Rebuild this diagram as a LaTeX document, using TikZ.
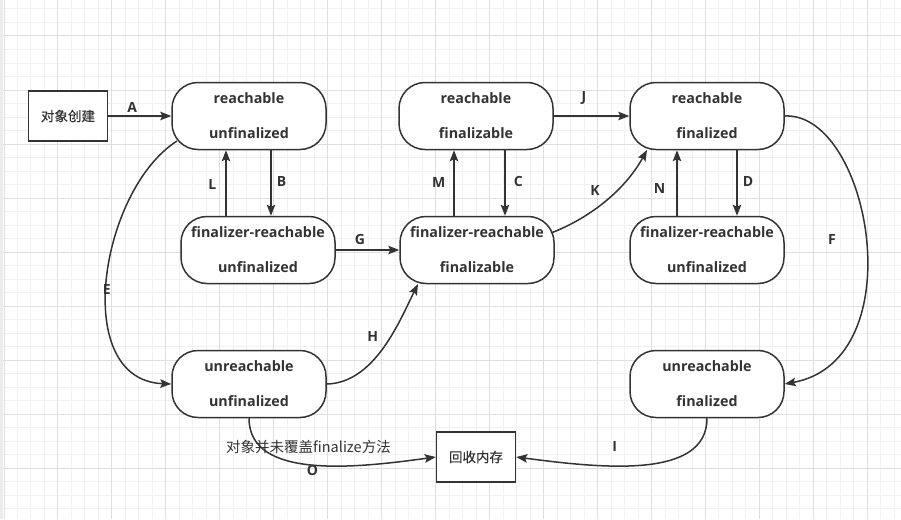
\documentclass[tikz,border=0pt]{standalone}
\usepackage{fontspec}
\setmainfont{Open Sans}
\newfontfamily\cjk{Noto Sans CJK SC}
\newfontfamily\cjkbox[FakeBold=0.5]{Noto Sans CJK SC}
\usetikzlibrary{arrows.meta}
\definecolor{ink}{HTML}{333333}
\definecolor{gridminor}{HTML}{F1F1F1}
\definecolor{gridmajor}{HTML}{DFDFDF}

\begin{document}
\begin{tikzpicture}[x=1pt,y=-1pt,
        state/.style={draw=ink,fill=white,line width=1.5pt,rounded corners=26pt,
            minimum width=154pt,minimum height=67pt,align=center,text=ink,
            font=\fontsize{14.3}{35}\selectfont\bfseries},
        box/.style={draw=ink,fill=white,line width=1.5pt,minimum width=79pt,
            minimum height=50pt,text=ink,font=\cjkbox\fontsize{13.5}{17}\selectfont},
        arr/.style={draw=ink,line width=1.5pt,-{Stealth[length=11pt,width=8.5pt,inset=2pt]}},
        lbl/.style={text=ink,inner sep=1pt,font=\fontsize{14}{17}\selectfont\bfseries},
        note/.style={text=ink,inner sep=1pt,font=\cjk\fontsize{14.5}{17}\selectfont}]
            \useasboundingbox (0,0) rectangle (901,519);

            % grid
            \fill [gray!15] (0,0) rectangle (3,519);
            \foreach \i in {0,...,66}
                {\draw [gridminor,line width=1pt] ({4+13.49*\i},0) -- ({4+13.49*\i},519);}
            \foreach \j in {0,...,38}
                {\draw [gridminor,line width=1pt] (3,{9+13.5*\j}) -- (901,{9+13.5*\j});}
            \foreach \i in {0,...,16}
                {\draw [gridmajor,line width=1pt] ({4+53.95*\i},0) -- ({4+53.95*\i},519);}
            \foreach \j in {0,...,8}
                {\draw [gridmajor,line width=1pt] (3,{36+54*\j}) -- (901,{36+54*\j});}

            % states
            \node [box]   (create) at (68,116)  {对象创建};
            \node [state] (ru)     at (249,116) {reachable\\unfinalized};
            \node [state] (fru)    at (258,250) {finalizer-reachable\\unfinalized};
            \node [state] (rfa)    at (476,116) {reachable\\finalizable};
            \node [state] (frfa)   at (477,250) {finalizer-reachable\\finalizable};
            \node [state] (rfd)    at (707,116) {reachable\\finalized};
            \node [state] (frud)   at (707,250) {finalizer-reachable\\unfinalized};
            \node [state] (uu)     at (249,384) {unreachable\\unfinalized};
            \node [state] (ufd)    at (707,384) {unreachable\\finalized};
            \node [box]   (free)   at (476,457) {回收内存};

            % straight transitions
            \draw [arr] (create) -- node [lbl,pos=0.38,above=2pt] {A} (ru);
            \draw [arr] ([xshift=22pt]ru.south) -- node [lbl,pos=0.48,right=4pt] {B} ([xshift=13pt]fru.north);
            \draw [arr] ([xshift=-32pt]fru.north) -- node [lbl,pos=0.48,left=8pt] {L} ([xshift=-23pt]ru.south);
            \draw [arr] (fru) -- node [lbl,pos=0.38,above=4pt] {G} (frfa);
            \draw [arr] ([xshift=-23pt]frfa.north) -- node [lbl,pos=0.5,left=7pt] {M} ([xshift=-22pt]rfa.south);
            \draw [arr] ([xshift=29pt]rfa.south) -- node [lbl,pos=0.48,right=7pt] {C} ([xshift=28pt]frfa.north);
            \draw [arr] (rfa) -- node [lbl,pos=0.4,above=10pt] {J} (rfd);
            \draw [arr] ([xshift=-30pt]frud.north) -- node [lbl,pos=0.41,left=10pt] {N} ([xshift=-30pt]rfd.south);
            \draw [arr] ([xshift=30pt]rfd.south) -- node [lbl,pos=0.48,right=4pt] {D} ([xshift=30pt]frud.north);

            % curved transitions
            \draw [arr] ([shift={(-72,25)}]ru.center) .. controls (100,190) and (70,380) ..
                node [lbl,pos=0.53] {E} (uu.west);
            \draw [arr] (uu.east) .. controls (375,383) and (400,320) ..
                node [lbl,pos=0.5,above left=4pt] {H} ([shift={(-59,34)}]frfa.center);
            \draw [arr] ([shift={(74,-17)}]frfa.center) .. controls (590,218) and (625,190) ..
                node [lbl,pos=0.5,above left=4pt] {K} ([shift={(-60,34)}]rfd.center);
            \draw [arr] (rfd.east) .. controls (870,112) and (915,360) ..
                node [lbl,pos=0.5,left=28pt] {F} (ufd.east);
            \draw [arr] (ufd.south) .. controls (707,480) and (600,468) ..
                node [lbl,pos=0.62,above=13pt] {I} (free.east);
            \draw [arr] (uu.south) .. controls (249,480) and (356,468) ..
                node [lbl,pos=0.5,yshift=-6pt] {O}
                node [note,pos=0.5,xshift=-4pt,yshift=18pt] {对象并未覆盖finalize方法} (free.west);
\end{tikzpicture}
\end{document}
